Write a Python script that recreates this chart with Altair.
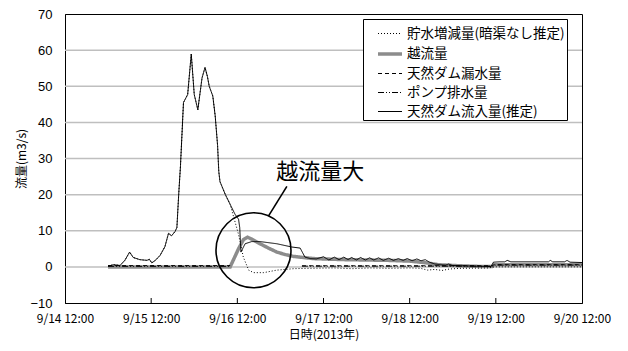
import altair as alt
import pandas as pd

JP = "Noto Sans CJK JP"

series_names = ["貯水増減量(暗渠なし推定)", "越流量", "天然ダム漏水量", "ポンプ排水量", "天然ダム流入量(推定)"]
series_colors = ["black", "#8c8c8c", "black", "black", "black"]
series_dash = [[1, 2], [1, 0], [4, 3], [6, 2, 1, 2, 1, 2], [1, 0]]
series_width = [1, 3.5, 1, 1, 1]

inflow_t = ["09-15 00:00", "09-15 01:30", "09-15 03:20", "09-15 04:40", "09-15 06:00", "09-15 07:00",
            "09-15 08:50", "09-15 10:50", "09-15 11:30", "09-15 12:10", "09-15 13:10", "09-15 14:30",
            "09-15 15:50", "09-15 16:50", "09-15 17:40", "09-15 18:40", "09-15 19:10", "09-15 19:40",
            "09-15 20:10", "09-15 21:00", "09-15 22:10", "09-15 23:10", "09-16 00:00", "09-16 01:00",
            "09-16 02:10", "09-16 03:00", "09-16 03:40", "09-16 04:10", "09-16 05:10", "09-16 05:50",
            "09-16 06:30", "09-16 06:50", "09-16 07:10", "09-16 08:40", "09-16 10:00", "09-16 11:20",
            "09-16 12:20", "09-16 12:40", "09-16 13:00", "09-16 14:10", "09-16 16:00", "09-16 18:20",
            "09-16 23:00", "09-17 03:10", "09-17 05:30", "09-17 06:50", "09-17 08:20", "09-17 10:00",
            "09-17 12:00", "09-17 13:30", "09-17 15:00", "09-17 16:20", "09-17 17:40", "09-17 18:50",
            "09-17 19:50", "09-17 21:10", "09-17 22:20", "09-17 23:40", "09-18 00:50", "09-18 02:00",
            "09-18 03:20", "09-18 04:40", "09-18 06:10", "09-18 07:30", "09-18 08:50", "09-18 10:10",
            "09-18 11:20", "09-18 12:40", "09-18 14:00", "09-18 15:10", "09-18 16:20", "09-18 17:30",
            "09-18 19:00", "09-18 20:30", "09-18 22:00", "09-18 22:50", "09-18 23:50", "09-19 02:00",
            "09-19 06:00", "09-19 10:40", "09-19 11:20", "09-19 13:00", "09-19 14:30", "09-19 15:10",
            "09-19 16:10", "09-19 22:00", "09-20 02:40", "09-20 03:10", "09-20 03:50", "09-20 07:10",
            "09-20 07:50", "09-20 08:40", "09-20 12:00"]
inflow_v = [0.2, 0.6, 0.4, 1.8, 4.1, 2.6,
            2.0, 1.8, 2.1, 1.1, 1.8, 3.2,
            5.6, 9.3, 8.6, 9.8, 10.9, 20.0,
            28.0, 45.5, 47.7, 58.9, 47.7, 43.5,
            52.3, 55.2, 52.7, 50.0, 47.3, 41.8,
            33.6, 26.4, 23.6, 20.0, 17.3, 14.6,
            13.2, 10.9, 4.1, 6.4, 7.0, 7.0,
            6.4, 5.5, 5.2, 2.7, 2.3, 2.2,
            2.8, 1.9, 2.7, 2.0, 2.7, 2.0,
            2.6, 1.9, 2.6, 1.9, 2.5, 1.9,
            2.5, 1.8, 2.4, 1.8, 2.3, 1.8,
            2.3, 1.7, 2.2, 1.7, 2.0, 1.3,
            0.8, 0.6, 0.5, 0.8, 0.4, 0.3,
            0.2, 0.1, 1.3, 1.4, 1.4, 1.8,
            1.4, 1.4, 1.4, 1.8, 1.4, 1.4,
            1.8, 1.3, 1.2]

overflow_t = ["09-15 00:00", "09-16 10:00", "09-16 12:20", "09-16 13:40", "09-16 14:50", "09-16 16:00",
              "09-16 18:20", "09-16 20:40", "09-16 23:00", "09-17 01:20", "09-17 03:40", "09-17 06:20",
              "09-17 09:10", "09-17 12:00", "09-17 18:00", "09-18 00:00", "09-18 06:00", "09-18 12:00",
              "09-18 16:00", "09-18 20:00", "09-19 02:00", "09-19 08:00", "09-19 11:00", "09-19 11:30",
              "09-20 12:00"]
overflow_v = [0.0, 0.0, 5.0, 7.5, 8.2, 7.7,
              6.4, 5.2, 4.1, 3.4, 2.9, 2.6,
              2.3, 2.2, 2.0, 1.9, 1.8, 1.6,
              1.2, 0.6, 0.3, 0.1, 0.1, 0.6,
              0.6]

storage_t = inflow_t[:35] + ["09-16 12:20", "09-16 13:40", "09-16 15:10", "09-16 16:30", "09-16 19:20",
                             "09-16 23:00", "09-17 03:40", "09-17 08:00", "09-17 15:00", "09-17 20:00",
                             "09-18 01:00", "09-18 06:00", "09-18 12:00", "09-18 15:00", "09-18 17:00",
                             "09-18 19:00", "09-18 21:00", "09-18 23:00", "09-19 02:00", "09-19 10:00",
                             "09-19 11:30", "09-20 12:00"]
storage_v = inflow_v[:35] + [9.0, 2.7, -0.9, -1.6, -1.6,
                             -0.9, -0.5, -0.4, -0.3, -0.5,
                             -0.3, -0.4, -0.3, -0.4, -0.9,
                             -0.7, -1.0, -0.6, -0.4, -0.3,
                             0.0, 0.0]

leak_t = ["09-15 00:00", "09-16 10:00", "09-17 06:00", "09-19 11:00", "09-19 11:30", "09-20 12:00"]
leak_v = [0.35, 0.35, 0.3, 0.3, 0.6, 0.6]
leak_seg = [1, 1, 2, 2, 2, 2]

pump_t = ["09-15 00:00", "09-16 10:00", "09-17 06:00", "09-19 11:00", "09-19 11:30", "09-20 12:00"]
pump_v = [0.15, 0.15, 0.2, 0.2, 0.5, 0.5]
pump_seg = [1, 1, 2, 2, 2, 2]

tick_days = [14, 15, 16, 17, 18, 19, 20]
y_ticks = [-10, 0, 10, 20, 30, 40, 50, 60, 70]
grid_vals = [0, 10, 20, 30, 40, 50, 60]


def iso(t):
    m, rest = t.split("-")
    d, hm = rest.split(" ")
    return f"2013-{m}-{d}T{hm}:00"


rows = []
for name, ts, vs, segs in [
    (series_names[1], overflow_t, overflow_v, [1] * len(overflow_t)),
    (series_names[0], storage_t, storage_v, [1] * len(storage_t)),
    (series_names[2], leak_t, leak_v, leak_seg),
    (series_names[3], pump_t, pump_v, pump_seg),
    (series_names[4], inflow_t, inflow_v, [1] * len(inflow_t)),
]:
    for t, v, s in zip(ts, vs, segs):
        rows.append({"time": iso(t), "value": v, "series": name, "seg": s})
df = pd.DataFrame(rows)

tick_dates = [alt.DateTime(year=2013, month=9, date=d, hours=12) for d in tick_days]
ticks_df = pd.DataFrame({"time": [f"2013-09-{d}T12:00:00" for d in tick_days[1:-1]]})
grid_df = pd.DataFrame({"value": grid_vals})

x_scale = alt.Scale(domain=[tick_dates[0], tick_dates[-1]])
y_scale = alt.Scale(domain=[-10, 70], nice=False)

legend = alt.Legend(
    orient="none", legendX=298, legendY=5, direction="vertical",
    fillColor="white", strokeColor="black", padding=2, symbolOffset=11,
    labelFont=JP, labelFontSize=13.5, labelColor="black",
    symbolSize=576, symbolType="stroke", rowPadding=0, labelOffset=3,
)

x_enc = alt.X("time:T", scale=x_scale,
              axis=alt.Axis(values=tick_dates, format="%-m/%-d %H:%M", title="日時(2013年)",
                            grid=False, ticks=False, tickSize=0, labelPadding=10, labelFlush=False,
                            labelOverlap=False, titlePadding=5, domainColor="black",
                            labelFont=JP, labelFontSize=12, labelColor="black",
                            titleFont=JP, titleFontSize=12, titleColor="black",
                            titleFontWeight="normal"))
y_enc = alt.Y("value:Q", scale=y_scale,
              axis=alt.Axis(values=y_ticks, title="流量(m3/s)", grid=False,
                            ticks=False, tickSize=0, labelPadding=13, domainColor="black",
                            labelOverlap=False, labelFlush=False,
                            titleX=-44, titleY=144.5, titleAngle=-90, titleAlign="center",
                            titleBaseline="middle",
                            labelFont="Liberation Sans", labelFontSize=13, labelColor="black",
                            titleFont=JP, titleFontSize=12, titleColor="black",
                            titleFontWeight="normal"))

enc = dict(
    x=x_enc,
    y=y_enc,
    color=alt.Color("series:N", scale=alt.Scale(domain=series_names, range=series_colors),
                    legend=legend, title=None),
    strokeDash=alt.StrokeDash("series:N", scale=alt.Scale(domain=series_names, range=series_dash),
                              legend=legend, title=None),
    strokeWidth=alt.StrokeWidth("series:N",
                                scale=alt.Scale(type="ordinal", domain=series_names, range=series_width),
                                legend=legend, title=None),
    detail="seg:N",
)

grid_layer = alt.Chart(grid_df).mark_rule(color="#bfbfbf", strokeWidth=1.5).encode(y=y_enc)

base = alt.Chart(df)
over_layer = base.transform_filter(alt.datum.series == series_names[1]).mark_line().encode(**enc)
other_layer = base.transform_filter(alt.datum.series != series_names[1]).mark_line().encode(**enc)

tick_layer = alt.Chart(ticks_df).mark_rule(color="black", strokeWidth=1).encode(
    x=x_enc, y=alt.value(289), y2=alt.value(284))

ann_circle = alt.Chart(pd.DataFrame({"time": ["2013-09-16T16:30:00"], "value": [4.6]})).mark_point(
    shape="circle", filled=False, size=5625, color="black", strokeWidth=1.6, opacity=1
).encode(x=x_enc, y=y_enc)

ann_line = alt.Chart(pd.DataFrame({"time": ["2013-09-16T20:42:00"], "value": [14.1],
                                   "time2": ["2013-09-17T01:48:00"], "value2": [22.3]})).mark_rule(
    color="black", strokeWidth=1.6).encode(x=x_enc, y=y_enc, x2="time2:T", y2="value2:Q")

ann_text = alt.Chart(pd.DataFrame({"time": ["2013-09-17T11:06:00"], "value": [26.4],
                                   "label": ["越流量大"]})).mark_text(
    font=JP, fontSize=22, color="black", align="center", baseline="middle"
).encode(x=x_enc, y=y_enc, text="label:N")

chart = alt.layer(grid_layer, over_layer, other_layer, tick_layer, ann_circle, ann_line,
                  ann_text).properties(
    width=517, height=289, background="white",
    autosize=alt.AutoSizeParams(type="none"),
    padding={"left": 57, "top": 6, "right": 30, "bottom": 42},
).configure_view(stroke="black", strokeWidth=1).configure_axis(
    labelFont=JP, labelFontSize=12, labelColor="black",
    titleFont=JP, titleFontSize=12, titleColor="black", titleFontWeight="normal",
)

chart.save("out.html", embed_options={"renderer": "svg", "actions": False})
